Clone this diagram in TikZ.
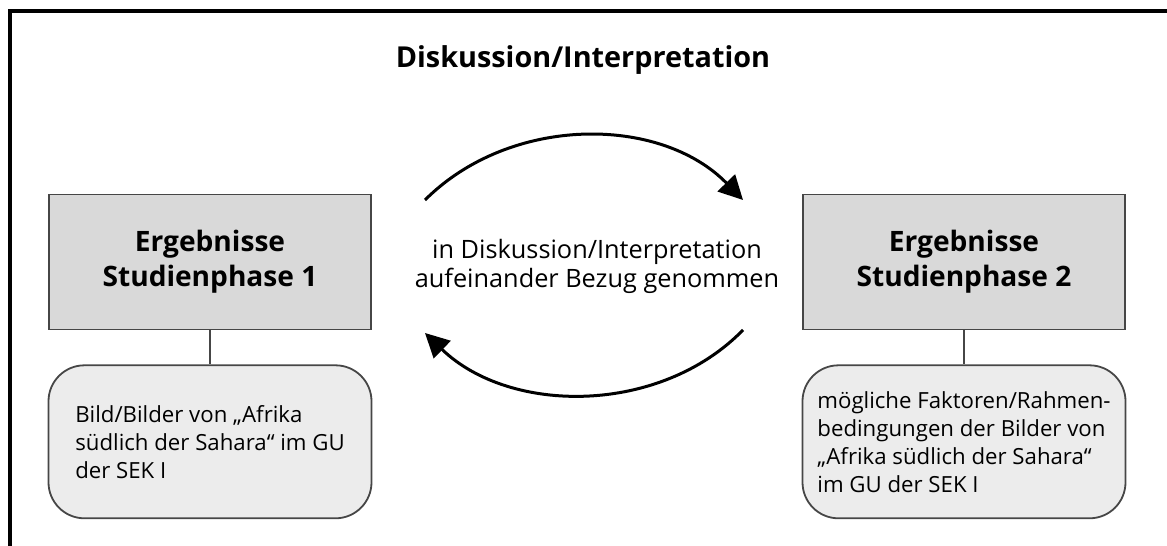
\documentclass[tikz,border=0pt]{standalone}
\usepackage{fontspec}
\setmainfont{Open Sans}
\setsansfont{Open Sans}
\usepackage{xcolor}
\usepackage{tikz}
\usetikzlibrary{arrows.meta, positioning}
\definecolor{resGray}{RGB}{217,217,217}
\definecolor{detGray}{RGB}{236,236,236}
\definecolor{edgeGray}{RGB}{70,70,70}

\begin{document}
\begin{tikzpicture}[
    x=0.25mm, y=-0.25mm,
    font=\sffamily,
    result/.style={draw=edgeGray, fill=resGray, line width=0.45mm,
                   minimum width=80.5mm, minimum height=33.75mm,
                   align=center, font=\fontsize{20}{24.9}\selectfont\bfseries},
    detail/.style={draw=edgeGray, fill=detGray, rounded corners=9mm,
                   line width=0.45mm, minimum width=80.75mm,
                   minimum height=38.25mm, align=left,
                   font=\fontsize{15.8}{19.9}\selectfont},
    link/.style={draw=edgeGray, line width=0.35mm},
    cycle/.style={-{Triangle[length=6mm, width=6mm]}, line width=0.75mm}
]
\useasboundingbox (0,0) rectangle (1167,546);

% frame, cut off at the right and bottom
\draw[line width=0.8mm] (10,546) -- (10,11) -- (1167,11);

\node[font=\fontsize{20.5}{25}\selectfont\bfseries] (title) at (583,60)
  {Diskussion/Interpretation};

% LEFT --- study phase 1
\node[result] (res1) at (210,262) {Ergebnisse\\Studienphase 1};
\node[detail, below=8.5mm of res1] (det1)
  {Bild/Bilder von „Afrika\\südlich der Sahara“ im GU\\der SEK I};
\draw[link] (res1) -- (det1);

% RIGHT --- study phase 2
\node[result] (res2) at (964,262) {Ergebnisse\\Studienphase 2};
\node[detail, below=8.5mm of res2] (det2)
  {mögliche Faktoren/Rahmen-\\bedingungen der Bilder von\\„Afrika südlich der Sahara“\\im GU der SEK I};
\draw[link] (res2) -- (det2);

% middle --- mutual reference
\node[align=center, font=\fontsize{18}{20.6}\selectfont] (mid) at (597,266)
  {in Diskussion/Interpretation\\aufeinander Bezug genommen};

\coordinate (topL) at (425,200);
\coordinate (topR) at (743,200);
\coordinate (botR) at (743,330);
\coordinate (botL) at (425,333);
\draw[cycle] (topL) .. controls (510,115) and (660,115) .. (topR);
\draw[cycle] (botR) .. controls (660,415) and (510,415) .. (botL);

\end{tikzpicture}
\end{document}
